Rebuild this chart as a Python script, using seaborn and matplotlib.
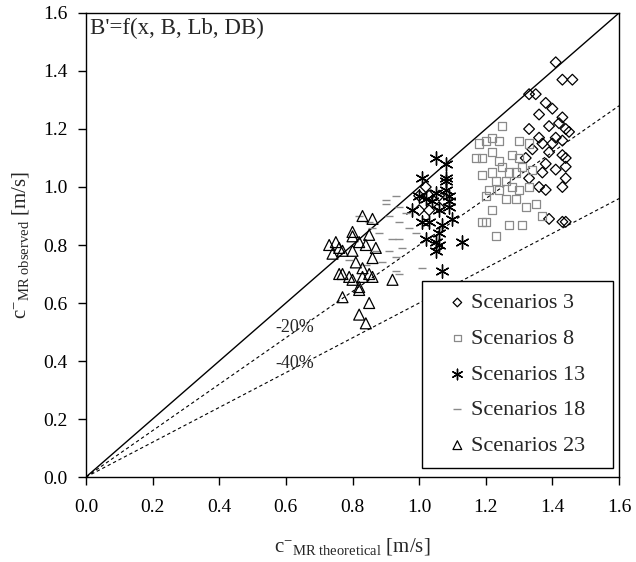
import pandas as pd
import seaborn as sns
import matplotlib
matplotlib.use('Agg')
import matplotlib.pyplot as plt

# Scenario 3 (open diamonds)
s3_x = [1.41, 1.33, 1.35, 1.43, 1.46, 1.38, 1.40, 1.36, 1.43, 1.33, 1.39, 1.42, 1.44, 1.45,
        1.36, 1.37, 1.40, 1.41, 1.43, 1.34, 1.32, 1.39, 1.43, 1.44, 1.38, 1.37, 1.41, 1.44,
        1.33, 1.36, 1.44, 1.43, 1.38, 1.39, 1.43, 1.44,
        1.02, 1.00, 1.03, 1.06, 1.00, 1.03, 1.06]
s3_y = [1.43, 1.32, 1.32, 1.37, 1.37, 1.29, 1.27, 1.25, 1.24, 1.20, 1.21, 1.22, 1.20, 1.19,
        1.17, 1.15, 1.15, 1.17, 1.16, 1.13, 1.10, 1.12, 1.11, 1.10, 1.08, 1.05, 1.06, 1.07,
        1.03, 1.00, 1.03, 1.00, 0.99, 0.89, 0.88, 0.88,
        1.00, 0.97, 0.97, 0.97, 0.92, 0.92, 0.93]

# Scenario 8 (open grey squares)
s8_x = [1.25, 1.22, 1.20, 1.18, 1.24, 1.30, 1.33, 1.19, 1.17, 1.22, 1.28, 1.30, 1.24, 1.25,
        1.22, 1.27, 1.29, 1.31, 1.34, 1.23, 1.26, 1.21, 1.24, 1.28, 1.30, 1.33, 1.20, 1.26,
        1.29, 1.35, 1.22, 1.32, 1.19, 1.20, 1.27, 1.31, 1.23, 1.37, 1.19]
s8_y = [1.21, 1.17, 1.16, 1.15, 1.16, 1.16, 1.15, 1.10, 1.10, 1.12, 1.11, 1.10, 1.09, 1.07,
        1.05, 1.05, 1.05, 1.07, 1.06, 1.02, 1.02, 0.99, 0.99, 1.00, 0.99, 1.00, 0.97, 0.96,
        0.96, 0.94, 0.92, 0.93, 0.88, 0.88, 0.87, 0.87, 0.83, 0.90, 1.04]

# Scenario 13 (asterisks)
s13_x = [1.05, 1.08, 1.08, 1.01, 1.00, 1.05, 1.08, 1.09, 0.98, 1.06, 1.09, 1.10, 1.01,
         1.03, 1.07, 1.06, 1.02, 1.05, 1.06, 1.05, 1.13, 1.07, 1.08, 1.02, 1.04, 1.09]
s13_y = [1.10, 1.08, 1.03, 1.03, 0.97, 0.98, 0.99, 0.97, 0.92, 0.92, 0.93, 0.89, 0.88,
         0.88, 0.87, 0.84, 0.82, 0.81, 0.80, 0.78, 0.81, 0.71, 1.02, 0.96, 0.95, 0.95]

# Scenario 18 (grey dashes)
s18_x = [0.90, 0.93, 0.94, 0.90, 0.91, 0.94, 0.86, 0.88, 0.92, 0.94, 0.91, 0.93, 0.89,
         0.93, 0.94, 1.01, 0.87, 0.95, 0.79, 0.82, 0.85, 0.97, 0.99, 0.84, 0.96]
s18_y = [0.955, 0.97, 0.93, 0.94, 0.90, 0.88, 0.86, 0.84, 0.82, 0.82, 0.78, 0.76, 0.74,
         0.71, 0.70, 0.72, 0.78, 0.79, 0.75, 0.90, 0.88, 0.86, 0.84, 0.73, 0.91]

# Scenario 23 (open triangles)
s23_x = [0.83, 0.86, 0.80, 0.80, 0.75, 0.76, 0.77, 0.82, 0.84, 0.85, 0.87, 0.80, 0.86,
         0.81, 0.83, 0.76, 0.77, 0.79, 0.80, 0.83, 0.85, 0.86, 0.92, 0.82, 0.82, 0.77,
         0.85, 0.82, 0.84, 0.73, 0.74]
s23_y = [0.90, 0.89, 0.845, 0.83, 0.81, 0.79, 0.78, 0.81, 0.80, 0.835, 0.79, 0.78, 0.755,
         0.74, 0.72, 0.70, 0.70, 0.69, 0.68, 0.69, 0.70, 0.69, 0.68, 0.655, 0.645, 0.62,
         0.60, 0.56, 0.53, 0.80, 0.77]

limits = [0.0, 1.6]
ticks = [0.0, 0.2, 0.4, 0.6, 0.8, 1.0, 1.2, 1.4, 1.6]

# name, x, y, marker, colour, size, filled-shape?
groups = [
    ('Scenarios 3', s3_x, s3_y, 'D', 'black', 30, True),
    ('Scenarios 8', s8_x, s8_y, 's', '#8a8a8a', 34, True),
    ('Scenarios 13', s13_x, s13_y, (6, 2, 0), 'black', 90, False),
    ('Scenarios 18', s18_x, s18_y, '_', '#8a8a8a', 40, False),
    ('Scenarios 23', s23_x, s23_y, '^', 'black', 62, True),
]

sns.set_style('ticks')
plt.rcParams['font.family'] = ['Liberation Serif', 'DejaVu Serif']
plt.rcParams['mathtext.fontset'] = 'custom'
plt.rcParams['mathtext.rm'] = 'Liberation Serif'
plt.rcParams['mathtext.it'] = 'Liberation Serif:italic'

fig = plt.figure(figsize=(6.36, 5.62), dpi=100)
ax = fig.add_axes([0.1352, 0.1512, 0.8381, 0.8257])

for name, xs, ys, mk, col, size, filled in groups:
    df = pd.DataFrame({'x': xs, 'y': ys})
    if filled:
        sns.scatterplot(data=df, x='x', y='y', ax=ax, marker=mk, s=size,
                        facecolor='none', edgecolor=col, linewidth=0.9, label=name, zorder=3)
    else:
        sns.scatterplot(data=df, x='x', y='y', ax=ax, marker=mk, s=size,
                        color=col, linewidth=1.0, label=name, zorder=3)

# reference lines: 1:1, -20%, -40%
ax.plot(limits, limits, color='black', lw=1.0, zorder=2)
ax.plot(limits, [v * 0.8 for v in limits], color='black', lw=0.8, ls=(0, (3, 2.5)), zorder=2)
ax.plot(limits, [v * 0.6 for v in limits], color='black', lw=0.8, ls=(0, (3, 2.5)), zorder=2)
ax.text(0.628, 0.517, '-20%', fontsize=13, ha='center', va='center')
ax.text(0.628, 0.393, '-40%', fontsize=13, ha='center', va='center')
ax.text(0.008, 0.99, "B'=f(x, B, Lb, DB)", transform=ax.transAxes, fontsize=16.5,
        ha='left', va='top')

ax.set_xlim(limits)
ax.set_ylim(limits)
ax.set_xticks(ticks)
ax.set_yticks(ticks)
ax.set_xticklabels([f'{t:.1f}' for t in ticks])
ax.set_yticklabels([f'{t:.1f}' for t in ticks])
ax.tick_params(direction='out', length=6, width=1, labelsize=14, colors='black')
ax.tick_params(axis='x', pad=10)
ax.tick_params(axis='y', pad=7)
for sp in ax.spines.values():
    sp.set_color('black')
    sp.set_linewidth(1.0)

ax.set_xlabel(r'c$^{-}$$_{\mathrm{MR\ theoretical}}$ [m/s]', fontsize=15, labelpad=14)
ax.set_ylabel(r'c$^{-}$$_{\mathrm{MR\ observed}}$ [m/s]', fontsize=15, labelpad=9)

leg = ax.legend(loc='lower left', bbox_to_anchor=(0.630, 0.019, 0.359, 0.4), mode='expand',
                fontsize=16, frameon=True, fancybox=False, edgecolor='black', framealpha=1,
                borderpad=0.55, labelspacing=0.68, handlelength=2.1, handletextpad=-0.45,
                borderaxespad=0, markerscale=0.8)
leg.get_frame().set_linewidth(1.0)

fig.savefig('out.png', dpi=100)
